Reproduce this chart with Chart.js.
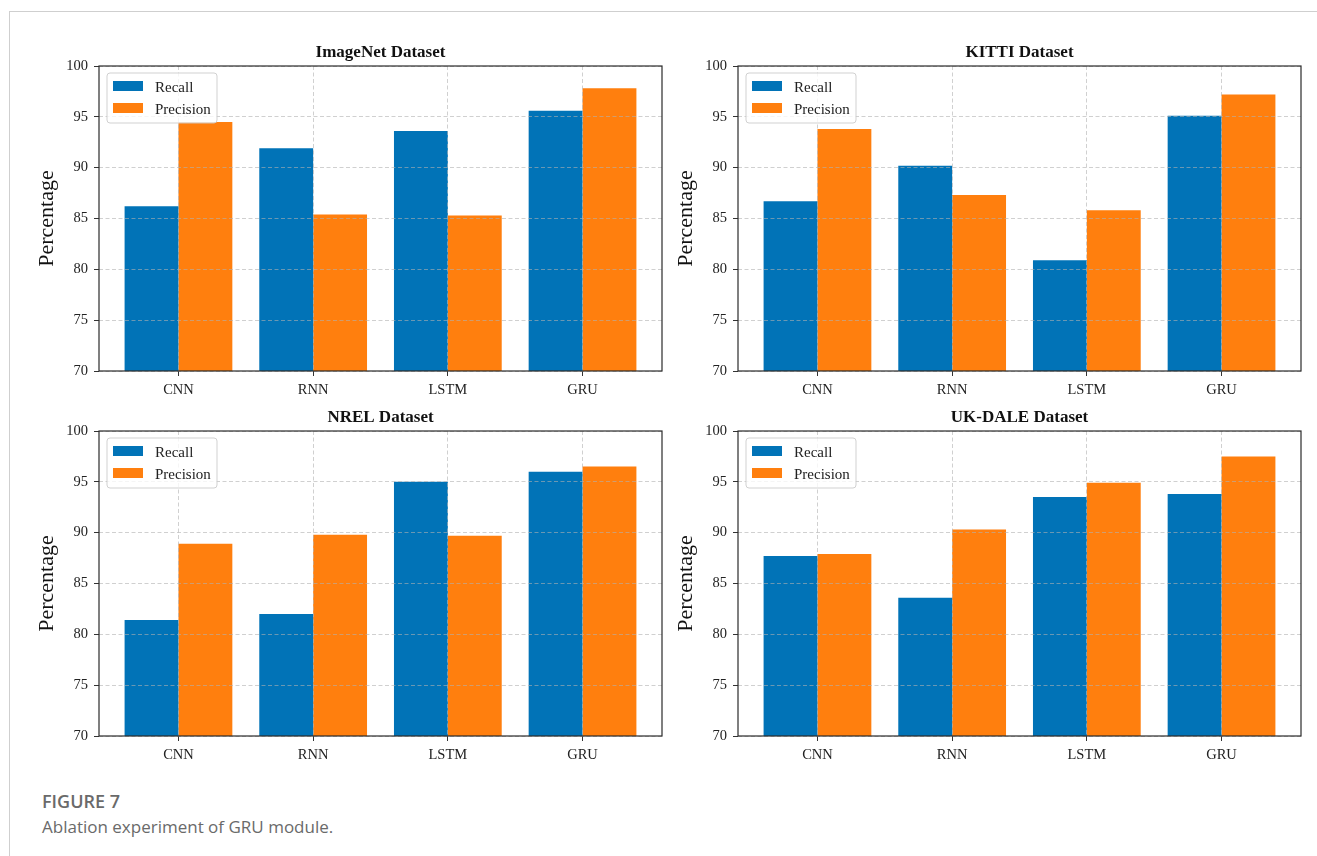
<!DOCTYPE html>
<html>
<head>
<meta charset="utf-8">
<script src="https://cdn.jsdelivr.net/npm/chart.js@4/dist/chart.umd.min.js"></script>
<style>
  html, body { margin: 0; padding: 0; background: #fff; }
  body { width: 1317px; height: 856px; position: relative; overflow: hidden; }
  .frame { position: absolute; left: 9px; top: 11px; right: 0; bottom: 0;
           border-top: 1px solid #cfcfcf; border-left: 1px solid #cfcfcf; }
  .panel { position: absolute; }
  .cap1 { position: absolute; left: 42px; top: 789px; font: 600 18px/24px "Open Sans", sans-serif; color: #6a6a6a; white-space: nowrap; }
  .cap2 { position: absolute; left: 42px; top: 815px; font: 400 17px/24px "Open Sans", sans-serif; color: #6a6a6a; white-space: nowrap; }
</style>
</head>
<body>
<div class="frame"></div>
<canvas id="c1" class="panel" width="670" height="380" style="left:0px;top:20px"></canvas>
<canvas id="c2" class="panel" width="670" height="380" style="left:639px;top:20px"></canvas>
<canvas id="c3" class="panel" width="670" height="380" style="left:0px;top:385px"></canvas>
<canvas id="c4" class="panel" width="670" height="380" style="left:639px;top:385px"></canvas>
<div class="cap1">FIGURE 7</div>
<div class="cap2">Ablation experiment of GRU module.</div>

<script>
// Models compared in each panel
const categories = ['CNN', 'RNN', 'LSTM', 'GRU'];
const yTicks = [70, 75, 80, 85, 90, 95, 100];
const seriesNames = ['Recall', 'Precision'];

// Recall / precision (%) per dataset
const imagenetRecall    = [86.2, 91.9, 93.6, 95.6];
const imagenetPrecision = [94.5, 85.4, 85.3, 97.8];
const kittiRecall       = [86.7, 90.2, 80.9, 95.1];
const kittiPrecision    = [93.8, 87.3, 85.8, 97.2];
const nrelRecall        = [81.4, 82.0, 95.0, 96.0];
const nrelPrecision     = [88.9, 89.8, 89.7, 96.5];
const ukdaleRecall      = [87.7, 83.6, 93.5, 93.8];
const ukdalePrecision   = [87.9, 90.3, 94.9, 97.5];

const BLUE = '#0173b7';
const ORANGE = '#ff7f0e';
const SERIF = '"Liberation Serif", "Times New Roman", serif';
const GRID = 'rgba(176,176,176,0.6)';

Chart.defaults.font.family = SERIF;
Chart.defaults.color = '#222';

// Panel title, legend and the closed axes box, drawn above the grid layer
const panelDecor = {
  id: 'panelDecor',
  afterDraw(chart, args, opts) {
    const ctx = chart.ctx;
    const ca = chart.chartArea;
    ctx.save();

    // title
    ctx.font = 'bold 17px ' + SERIF;
    ctx.fillStyle = '#111';
    ctx.textAlign = 'center';
    ctx.textBaseline = 'alphabetic';
    ctx.fillText(opts.title, (ca.left + ca.right) / 2, ca.top - 9);

    // legend box
    const lx = ca.left + 8, ly = ca.top + 7, lw = 110, lh = 50, r = 3;
    ctx.beginPath();
    ctx.moveTo(lx + r, ly);
    ctx.lineTo(lx + lw - r, ly);
    ctx.arcTo(lx + lw, ly, lx + lw, ly + r, r);
    ctx.lineTo(lx + lw, ly + lh - r);
    ctx.arcTo(lx + lw, ly + lh, lx + lw - r, ly + lh, r);
    ctx.lineTo(lx + r, ly + lh);
    ctx.arcTo(lx, ly + lh, lx, ly + lh - r, r);
    ctx.lineTo(lx, ly + r);
    ctx.arcTo(lx, ly, lx + r, ly, r);
    ctx.closePath();
    ctx.fillStyle = 'rgba(255,255,255,0.8)';
    ctx.fill();
    ctx.lineWidth = 1;
    ctx.strokeStyle = 'rgba(204,204,204,0.9)';
    ctx.stroke();

    ctx.font = '15px ' + SERIF;
    ctx.textAlign = 'left';
    chart.data.datasets.forEach((ds, i) => {
      const rowTop = ly + 8 + i * 22;
      ctx.fillStyle = ds.backgroundColor;
      ctx.fillRect(lx + 6, rowTop, 30, 10);
      ctx.fillStyle = '#222';
      ctx.fillText(ds.label, lx + 48, rowTop + 10.5);
    });

    // axes box
    ctx.lineWidth = 1.2;
    ctx.strokeStyle = '#2b2b2b';
    ctx.strokeRect(ca.left, ca.top, ca.right - ca.left, ca.bottom - ca.top);
    ctx.restore();
  }
};

const gridOpts = {
  z: 1,
  offset: false,
  color: GRID,
  lineWidth: 1,
  tickLength: 5,
  tickColor: '#333',
  tickWidth: 1,
  tickBorderDash: []
};

function makePanel(canvasId, title, recall, precision) {
  const toPoints = arr => arr.map((v, i) => ({ x: i, y: v }));
  return new Chart(document.getElementById(canvasId), {
    type: 'bar',
    data: {
      datasets: [
        { label: seriesNames[0], data: toPoints(recall), backgroundColor: BLUE, borderWidth: 0 },
        { label: seriesNames[1], data: toPoints(precision), backgroundColor: ORANGE, borderWidth: 0 }
      ]
    },
    options: {
      responsive: false,
      devicePixelRatio: 1,
      animation: false,
      events: [],
      layout: { padding: { left: 0, top: 46, right: 8, bottom: 0 } },
      datasets: { bar: { categoryPercentage: 0.8, barPercentage: 1.0, grouped: true } },
      scales: {
        x: {
          type: 'linear',
          offset: false,
          min: -0.59,
          max: 3.59,
          afterBuildTicks: axis => { axis.ticks = categories.map((_, i) => ({ value: i })); },
          afterFit: axis => { axis.height = 29; },
          ticks: {
            callback: v => categories[v],
            font: { size: 14.5 },
            color: '#222',
            padding: 5,
            maxRotation: 0,
            autoSkip: false
          },
          grid: Object.assign({}, gridOpts),
          border: { display: false, dash: [4, 2.5] }
        },
        y: {
          type: 'linear',
          min: 70,
          max: 100,
          afterBuildTicks: axis => { axis.ticks = yTicks.map(v => ({ value: v })); },
          afterFit: axis => { axis.width = 99; },
          ticks: { font: { size: 14.5 }, color: '#222', padding: 6 },
          grid: Object.assign({}, gridOpts),
          border: { display: false, dash: [4, 2.5] },
          title: {
            display: true,
            text: 'Percentage',
            font: { size: 22, lineHeight: 1.2 },
            color: '#111',
            padding: { top: 34, bottom: 0 }
          }
        }
      },
      plugins: {
        legend: { display: false },
        tooltip: { enabled: false },
        panelDecor: { title: title }
      }
    },
    plugins: [panelDecor]
  });
}

makePanel('c1', 'ImageNet Dataset', imagenetRecall, imagenetPrecision);
makePanel('c2', 'KITTI Dataset', kittiRecall, kittiPrecision);
makePanel('c3', 'NREL Dataset', nrelRecall, nrelPrecision);
makePanel('c4', 'UK-DALE Dataset', ukdaleRecall, ukdalePrecision);
</script>
</body>
</html>
